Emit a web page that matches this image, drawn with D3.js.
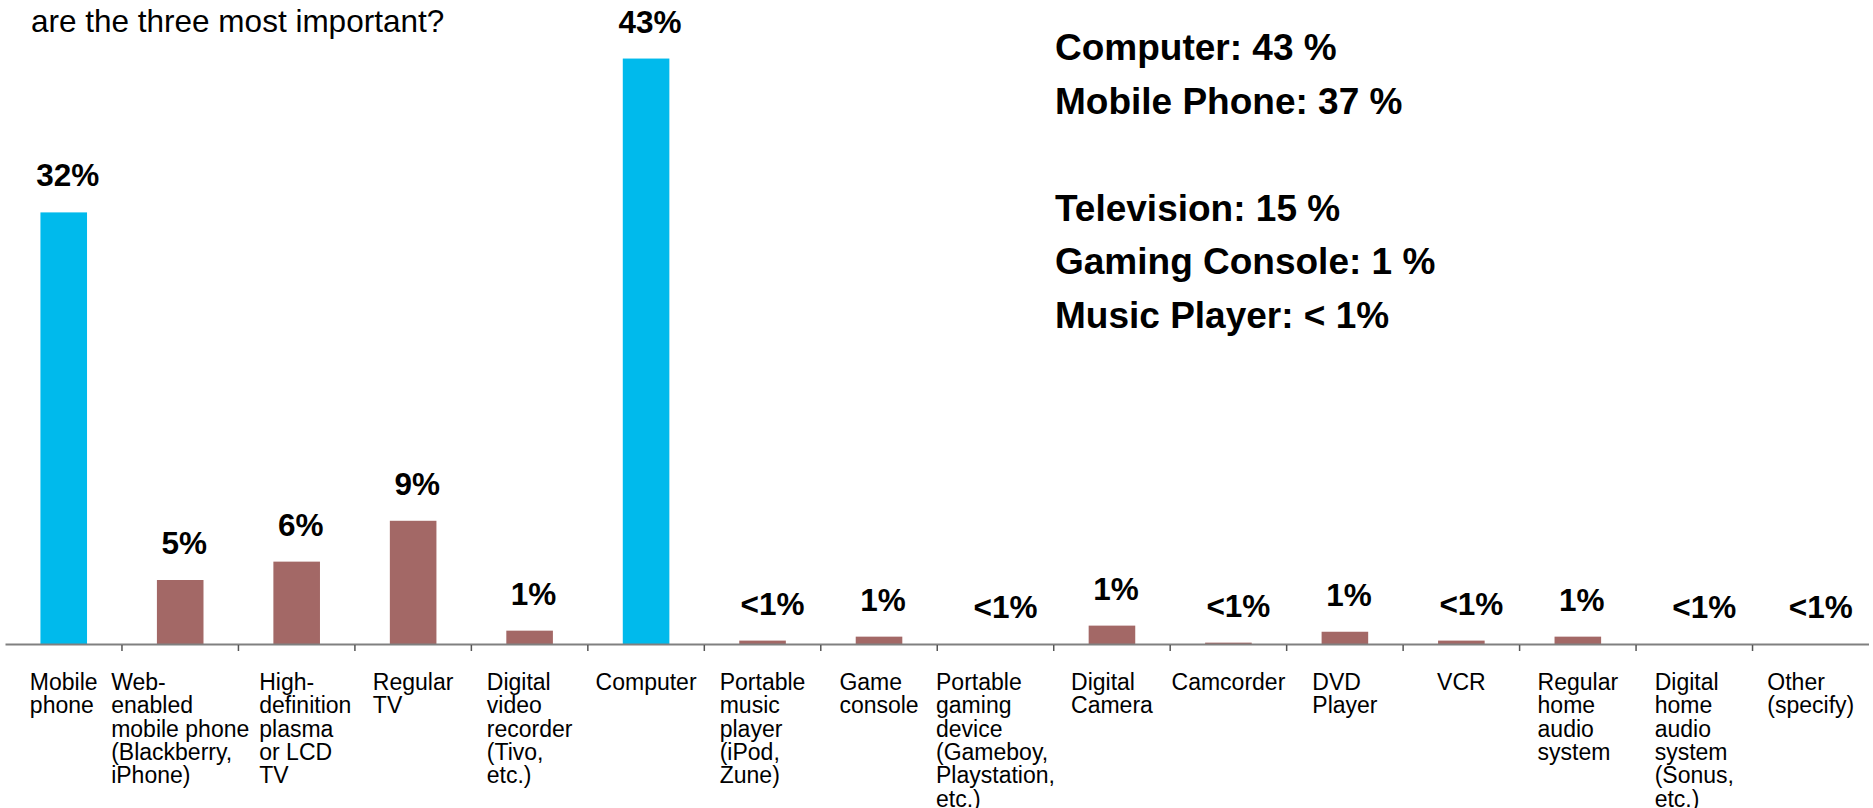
<!DOCTYPE html>
<html>
<head>
<meta charset="utf-8">
<script src="https://cdn.jsdelivr.net/npm/d3@7"></script>
<style>
  html, body { margin: 0; padding: 0; background: #fff; }
  svg { display: block; font-family: "Liberation Sans", Arial, sans-serif; }
</style>
</head>
<body>
<div id="chart"></div>
<script>
// Chart data
const categories = [
  ["Mobile", "phone"],
  ["Web-", "enabled", "mobile phone", "(Blackberry,", "iPhone)"],
  ["High-", "definition", "plasma", "or LCD", "TV"],
  ["Regular", "TV"],
  ["Digital", "video", "recorder", "(Tivo,", "etc.)"],
  ["Computer"],
  ["Portable", "music", "player", "(iPod,", "Zune)"],
  ["Game", "console"],
  ["Portable", "gaming", "device", "(Gameboy,", "Playstation,", "etc.)"],
  ["Digital", "Camera"],
  ["Camcorder"],
  ["DVD", "Player"],
  ["VCR"],
  ["Regular", "home", "audio", "system"],
  ["Digital", "home", "audio", "system", "(Sonus,", "etc.)"],
  ["Other", "(specify)"]
];
const values = [31.7, 4.7, 6.05, 9.05, 0.98, 43, 0.25, 0.54, 0, 1.35, 0.1, 0.9, 0.25, 0.54, 0, 0];
const valueLabels = ["32%", "5%", "6%", "9%", "1%", "43%", "<1%", "1%", "<1%", "1%", "<1%", "1%", "<1%", "1%", "<1%", "<1%"];
const highlighted = ["Mobile", "Computer"];

const titleText = "are the three most important?";
const summaryLines = [
  "Computer: 43 %",
  "Mobile Phone: 37 %",
  "",
  "Television: 15 %",
  "Gaming Console: 1 %",
  "Music Player: < 1%"
];

const width = 1873;
const height = 808;
const blue = "#00BAEC";
const brown = "#A36866";

const svg = d3.select("#chart")
  .append("svg")
  .attr("width", width)
  .attr("height", height);

// scales
const x = d3.scaleBand()
  .domain(d3.range(categories.length))
  .range([5.5, 1869])
  .paddingInner(0.6)
  .paddingOuter(0.3);

const axisY = 644;
const y = d3.scaleLinear()
  .domain([0, 47.3])
  .range([axisY, 0]);

// bars
svg.append("g")
  .selectAll("rect")
  .data(values)
  .enter().append("rect")
  .attr("x", (d, i) => x(i))
  .attr("y", d => y(d))
  .attr("width", x.bandwidth())
  .attr("height", d => axisY - y(d))
  .attr("fill", (d, i) => highlighted.includes(categories[i][0]) ? blue : brown);

// value labels
svg.append("g")
  .selectAll("text")
  .data(values)
  .enter().append("text")
  .attr("x", (d, i) => x(i) + x.bandwidth() / 2 + (valueLabels[i][0] === "<" ? 10 : 4))
  .attr("y", d => y(d) - 26)
  .attr("text-anchor", "middle")
  .attr("font-size", "31.5px")
  .attr("font-weight", "bold")
  .attr("fill", "#000")
  .text((d, i) => valueLabels[i]);

// axis line and ticks between categories
svg.append("line")
  .attr("x1", x.range()[0])
  .attr("x2", x.range()[1])
  .attr("y1", axisY + 0.5)
  .attr("y2", axisY + 0.5)
  .attr("stroke", "#808080")
  .attr("stroke-width", 2);

const step = x.step();
const left = x.range()[0];
svg.append("g")
  .selectAll("line")
  .data(d3.range(1, categories.length))
  .enter().append("line")
  .attr("x1", d => left + d * step)
  .attr("x2", d => left + d * step)
  .attr("y1", axisY + 1)
  .attr("y2", axisY + 7)
  .attr("stroke", "#555")
  .attr("stroke-width", 1.5);

// category labels, left aligned lines, block centred on the band
// (pushed right when it would run into the previous label)
const lineH = 23.3;
let prevRight = -Infinity;
const catG = svg.append("g")
  .selectAll("text")
  .data(categories)
  .enter().append("text")
  .attr("font-size", "23px")
  .attr("fill", "#000");

catG.each(function(lines, i) {
  const t = d3.select(this);
  lines.forEach((ln, j) => {
    t.append("tspan")
      .attr("x", 0)
      .attr("y", 690 + j * lineH)
      .text(ln);
  });
  let maxW = 0;
  t.selectAll("tspan").each(function() {
    maxW = Math.max(maxW, this.getComputedTextLength());
  });
  const cx = x(i) + x.bandwidth() / 2;
  const lx = Math.max(cx - maxW / 2, prevRight + 10);
  prevRight = lx + maxW;
  t.attr("transform", `translate(${lx},0)`);
});

// title fragment
svg.append("text")
  .attr("x", 31)
  .attr("y", 32)
  .attr("font-size", "31.5px")
  .attr("fill", "#000")
  .text(titleText);

// summary text on the right
svg.append("g")
  .selectAll("text")
  .data(summaryLines)
  .enter().append("text")
  .attr("x", 1055)
  .attr("y", (d, i) => 60 + i * 53.5)
  .attr("font-size", "37px")
  .attr("font-weight", "bold")
  .attr("fill", "#000")
  .text(d => d);
</script>
</body>
</html>
